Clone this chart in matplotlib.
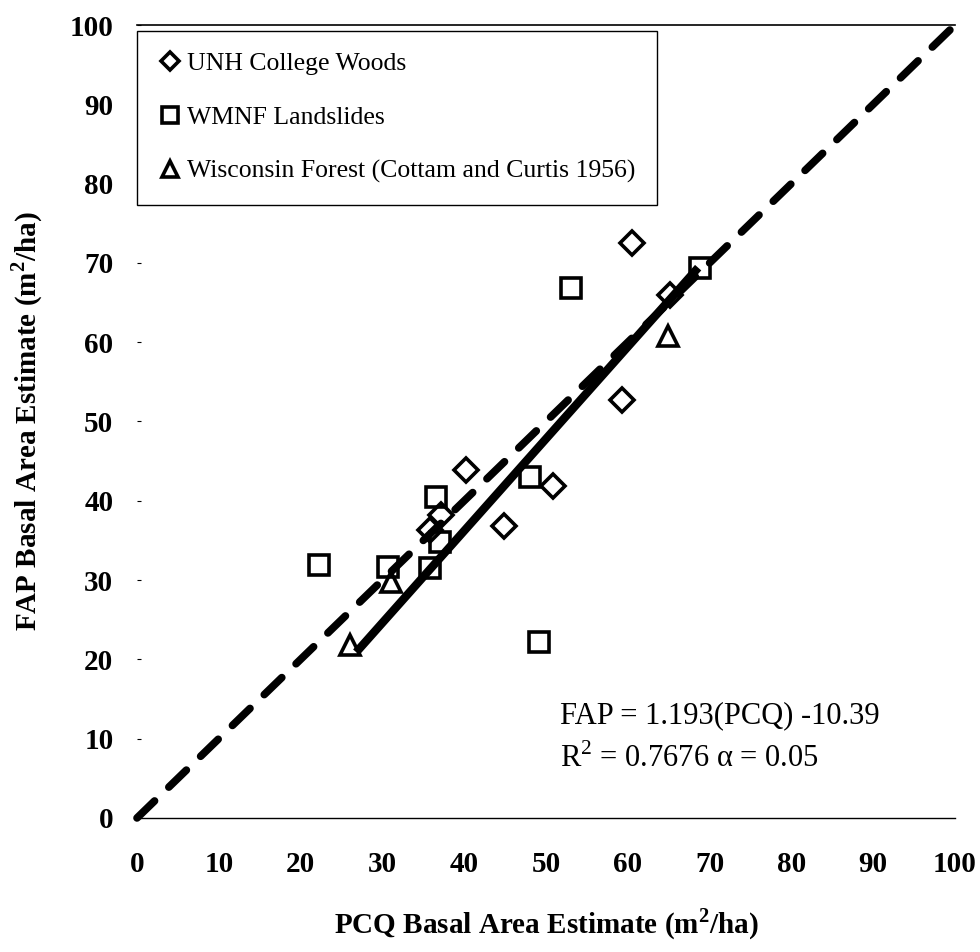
import matplotlib
matplotlib.use('Agg')
import matplotlib.pyplot as plt
import numpy as np

plt.rcParams['font.family'] = ['Liberation Serif', 'DejaVu Serif']
plt.rcParams['mathtext.fontset'] = 'custom'
plt.rcParams['mathtext.rm'] = 'Liberation Serif'
plt.rcParams['mathtext.bf'] = 'Liberation Serif:bold'

# data (PCQ, FAP) in m2/ha
unh_pcq = [37.2, 35.8, 40.2, 50.9, 44.9, 59.3, 60.5, 65.2]
unh_fap = [38.2, 36.3, 43.9, 41.9, 36.8, 52.7, 72.5, 66.0]

wmnf_pcq = [22.3, 30.7, 35.8, 37.0, 36.6, 48.1, 49.2, 53.1, 68.8]
wmnf_fap = [31.9, 31.7, 31.5, 34.8, 40.5, 43.0, 22.2, 66.8, 69.4]

wisc_pcq = [31.1, 26.0, 64.9]
wisc_fap = [29.8, 21.8, 60.8]

# fitted line as drawn
fit_pcq = [26.8, 68.6]
fit_fap = [20.9, 69.4]
ticks = list(range(0, 101, 10))

fig = plt.figure(figsize=(9.8, 9.52), dpi=100)
ax = fig.add_axes([0.1398, 0.1408, 0.9745 - 0.1398, 0.9737 - 0.1408])

# 1:1 line
ax.plot([0, 100], [0, 100], color='black', lw=5.5, dashes=(3.2, 2.6),
        dash_capstyle='round', clip_on=False, zorder=2)
# regression line
ax.plot(fit_pcq, fit_fap, color='black', lw=6, solid_capstyle='butt', zorder=3)

mk = dict(linestyle='none', markerfacecolor='none', markeredgecolor='black',
          markeredgewidth=2.6, zorder=4)
ax.plot(unh_pcq, unh_fap, marker='D', markersize=12, label='UNH College Woods', **mk)
ax.plot(wmnf_pcq, wmnf_fap, marker='s', markersize=14, label='WMNF Landslides', **mk)
ax.plot(wisc_pcq, wisc_fap, marker='^', markersize=15,
        label='Wisconsin Forest (Cottam and Curtis 1956)', **mk)

ax.set_xlim(0, 100)
ax.set_ylim(0, 100)
ax.set_xticks(ticks)
ax.set_yticks(ticks)
ax.tick_params(axis='x', length=0, pad=24, labelsize=21)
ax.tick_params(axis='y', length=3, width=0.8, direction='in', pad=17, labelsize=21)
for lab in ax.get_xticklabels() + ax.get_yticklabels():
    lab.set_fontweight('bold')

for s in ['left', 'right']:
    ax.spines[s].set_visible(False)
ax.spines['top'].set_linewidth(1.2)
ax.spines['bottom'].set_linewidth(1.0)

ax.set_xlabel(r'PCQ Basal Area Estimate (m$^{\mathbf{2}}$/ha)', fontsize=21,
              fontweight='bold', labelpad=20)
ax.set_ylabel(r'FAP Basal Area Estimate (m$^{\mathbf{2}}$/ha)', fontsize=21,
              fontweight='bold', labelpad=18)

leg = ax.legend(loc='upper left', bbox_to_anchor=(0.0, 0.993), fontsize=18.5,
                frameon=True, fancybox=False, edgecolor='black', framealpha=1,
                handletextpad=0.2, handlelength=0.9, labelspacing=1.2,
                borderpad=0.85, borderaxespad=0, markerscale=0.8)
leg.get_frame().set_linewidth(1.0)

ax.text(51.7, 12.9, 'FAP = 1.193(PCQ) -10.39', fontsize=22, va='center', ha='left')
ax.text(51.7, 7.5, r'R$^{2}$ = 0.7676 α = 0.05', fontsize=22, va='center', ha='left')

fig.savefig('out.png', dpi=100)
